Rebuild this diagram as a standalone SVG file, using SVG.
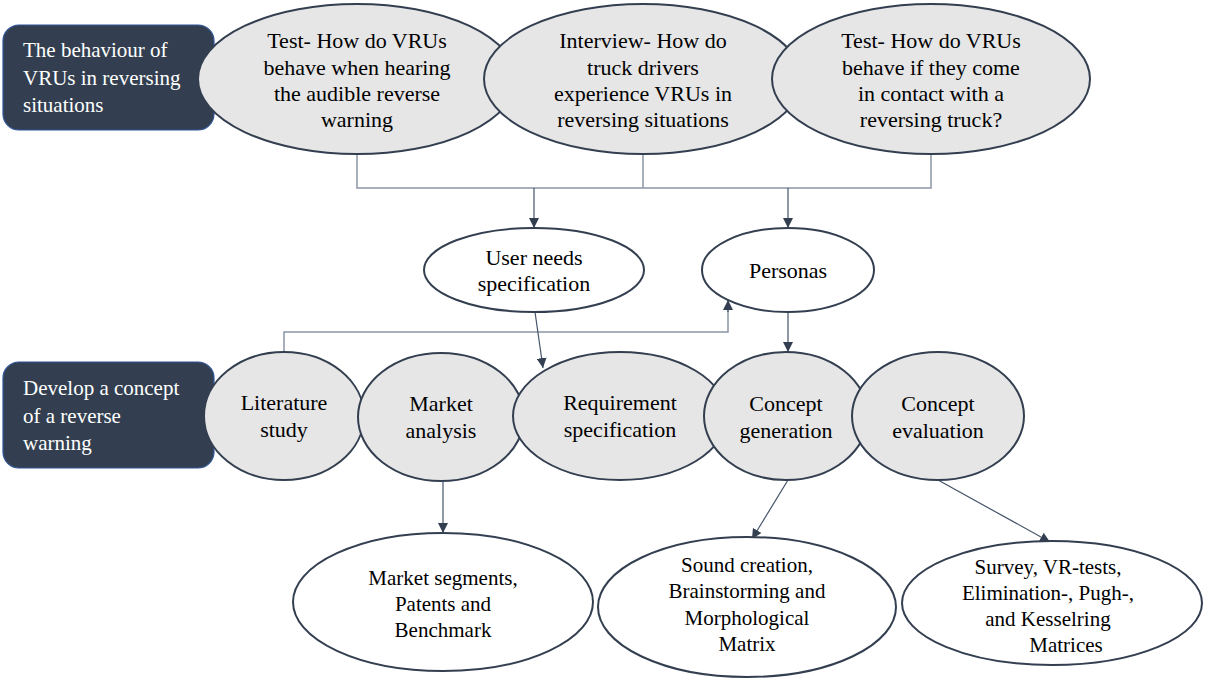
<svg xmlns="http://www.w3.org/2000/svg" width="1205" height="679" viewBox="0 0 1205 679" font-family="'Liberation Serif', 'Times New Roman', serif">
<defs>
<style>
text{font-family:"Liberation Serif","Times New Roman",serif}
.box{fill:#333F50;stroke:#2F5597;stroke-width:1.2}
.btxt{font-size:21px;fill:#FFFFFF}
.g{fill:#E6E6E6;stroke:#333F50;stroke-width:2}
.w{fill:#FFFFFF;stroke:#333F50;stroke-width:2}
.t{font-size:22px;fill:#000000;text-anchor:middle}
.s{font-size:21px;fill:#000000;text-anchor:middle}
.elb{fill:none;stroke:#8A95A5;stroke-width:1.5}
.arr{fill:none;stroke:#44546A;stroke-width:1.2;marker-end:url(#ah)}
</style>
<marker id="ah" viewBox="0 0 10 10" refX="10" refY="5" markerWidth="10" markerHeight="10" markerUnits="userSpaceOnUse" orient="auto">
<path d="M0,0 L10,5 L0,10 z" fill="#333F50"/>
</marker>
</defs>
<rect width="1205" height="679" fill="#FFFFFF"/>

<g id="box-behaviour">
<rect class="box" x="3" y="25" width="211" height="105" rx="16"/>
<text class="btxt" x="23" y="57">The behaviour of</text>
<text class="btxt" x="23" y="85">VRUs in reversing</text>
<text class="btxt" x="23" y="112">situations</text>
</g>
<g id="box-develop">
<rect class="box" x="3" y="362" width="211" height="106" rx="16"/>
<text class="btxt" x="23" y="395">Develop a concept</text>
<text class="btxt" x="23" y="423">of a reverse</text>
<text class="btxt" x="23" y="450">warning</text>
</g>

<g id="connectors">
<polyline class="elb" points="357,154 357,188 931,188 931,154"/>
<line class="elb" x1="643" y1="154" x2="643" y2="188"/>
<line class="arr" x1="534" y1="188" x2="534" y2="228"/>
<line class="arr" x1="788" y1="188" x2="788" y2="228"/>
<polyline class="elb" points="284,352 284,332 728,332 728,310"/>
<line class="arr" x1="728" y1="312" x2="728" y2="300"/>
<line class="arr" x1="535" y1="312" x2="543" y2="368"/>
<line class="arr" x1="788" y1="312" x2="788" y2="352"/>
<line class="arr" x1="443" y1="482" x2="443" y2="533"/>
<line class="arr" x1="788" y1="480" x2="752" y2="539"/>
<line class="arr" x1="938" y1="480" x2="1050" y2="542"/>
</g>

<g id="node-test1">
<ellipse class="g" cx="357" cy="79" rx="159" ry="75"/>
<text class="t" x="357" y="48">Test- How do VRUs</text>
<text class="t" x="357" y="75">behave when hearing</text>
<text class="t" x="357" y="101">the audible reverse</text>
<text class="t" x="357" y="127">warning</text>
</g>
<g id="node-interview">
<ellipse class="g" cx="643" cy="79" rx="159" ry="75"/>
<text class="t" x="643" y="48">Interview- How do</text>
<text class="t" x="643" y="75">truck drivers</text>
<text class="t" x="643" y="101">experience VRUs in</text>
<text class="t" x="643" y="127">reversing situations</text>
</g>
<g id="node-test2">
<ellipse class="g" cx="931" cy="79" rx="159" ry="75"/>
<text class="t" x="931" y="48">Test- How do VRUs</text>
<text class="t" x="931" y="75">behave if they come</text>
<text class="t" x="931" y="101">in contact with a</text>
<text class="t" x="931" y="127">reversing truck?</text>
</g>

<g id="node-userneeds">
<ellipse class="w" cx="534" cy="270" rx="110" ry="42"/>
<text class="t" x="534" y="265">User needs</text>
<text class="t" x="534" y="291">specification</text>
</g>
<g id="node-personas">
<ellipse class="w" cx="788" cy="270" rx="86" ry="42"/>
<text class="t" x="788" y="278">Personas</text>
</g>

<g id="node-literature">
<ellipse class="g" cx="284" cy="416" rx="80" ry="64"/>
<text class="t" x="284" y="410">Literature</text>
<text class="t" x="284" y="437">study</text>
</g>
<g id="node-market">
<ellipse class="g" cx="441" cy="417" rx="83" ry="64"/>
<text class="t" x="441" y="411">Market</text>
<text class="t" x="441" y="438">analysis</text>
</g>
<g id="node-requirement">
<ellipse class="g" cx="620" cy="416" rx="107" ry="64"/>
<text class="t" x="620" y="410">Requirement</text>
<text class="t" x="620" y="437">specification</text>
</g>
<g id="node-conceptgen">
<ellipse class="g" cx="786" cy="416" rx="82" ry="64"/>
<text class="t" x="786" y="411">Concept</text>
<text class="t" x="786" y="438">generation</text>
</g>
<g id="node-concepteval">
<ellipse class="g" cx="938" cy="416" rx="86" ry="64"/>
<text class="t" x="938" y="411">Concept</text>
<text class="t" x="938" y="438">evaluation</text>
</g>

<g id="node-marketseg">
<ellipse class="w" cx="443" cy="602" rx="150" ry="69"/>
<text class="s" x="443" y="585">Market segments,</text>
<text class="s" x="443" y="611">Patents and</text>
<text class="s" x="443" y="637">Benchmark</text>
</g>
<g id="node-sound">
<ellipse class="w" cx="747" cy="607" rx="149" ry="70"/>
<text class="s" x="747" y="572">Sound creation,</text>
<text class="s" x="747" y="598">Brainstorming and</text>
<text class="s" x="747" y="625">Morphological</text>
<text class="s" x="747" y="651">Matrix</text>
</g>
<g id="node-survey">
<ellipse class="w" cx="1052" cy="603" rx="150" ry="62"/>
<text class="s" x="1048" y="574">Survey, VR-tests,</text>
<text class="s" x="1048" y="600">Elimination-, Pugh-,</text>
<text class="s" x="1048" y="626">and Kesselring</text>
<text class="s" x="1066" y="652">Matrices</text>
</g>
</svg>
